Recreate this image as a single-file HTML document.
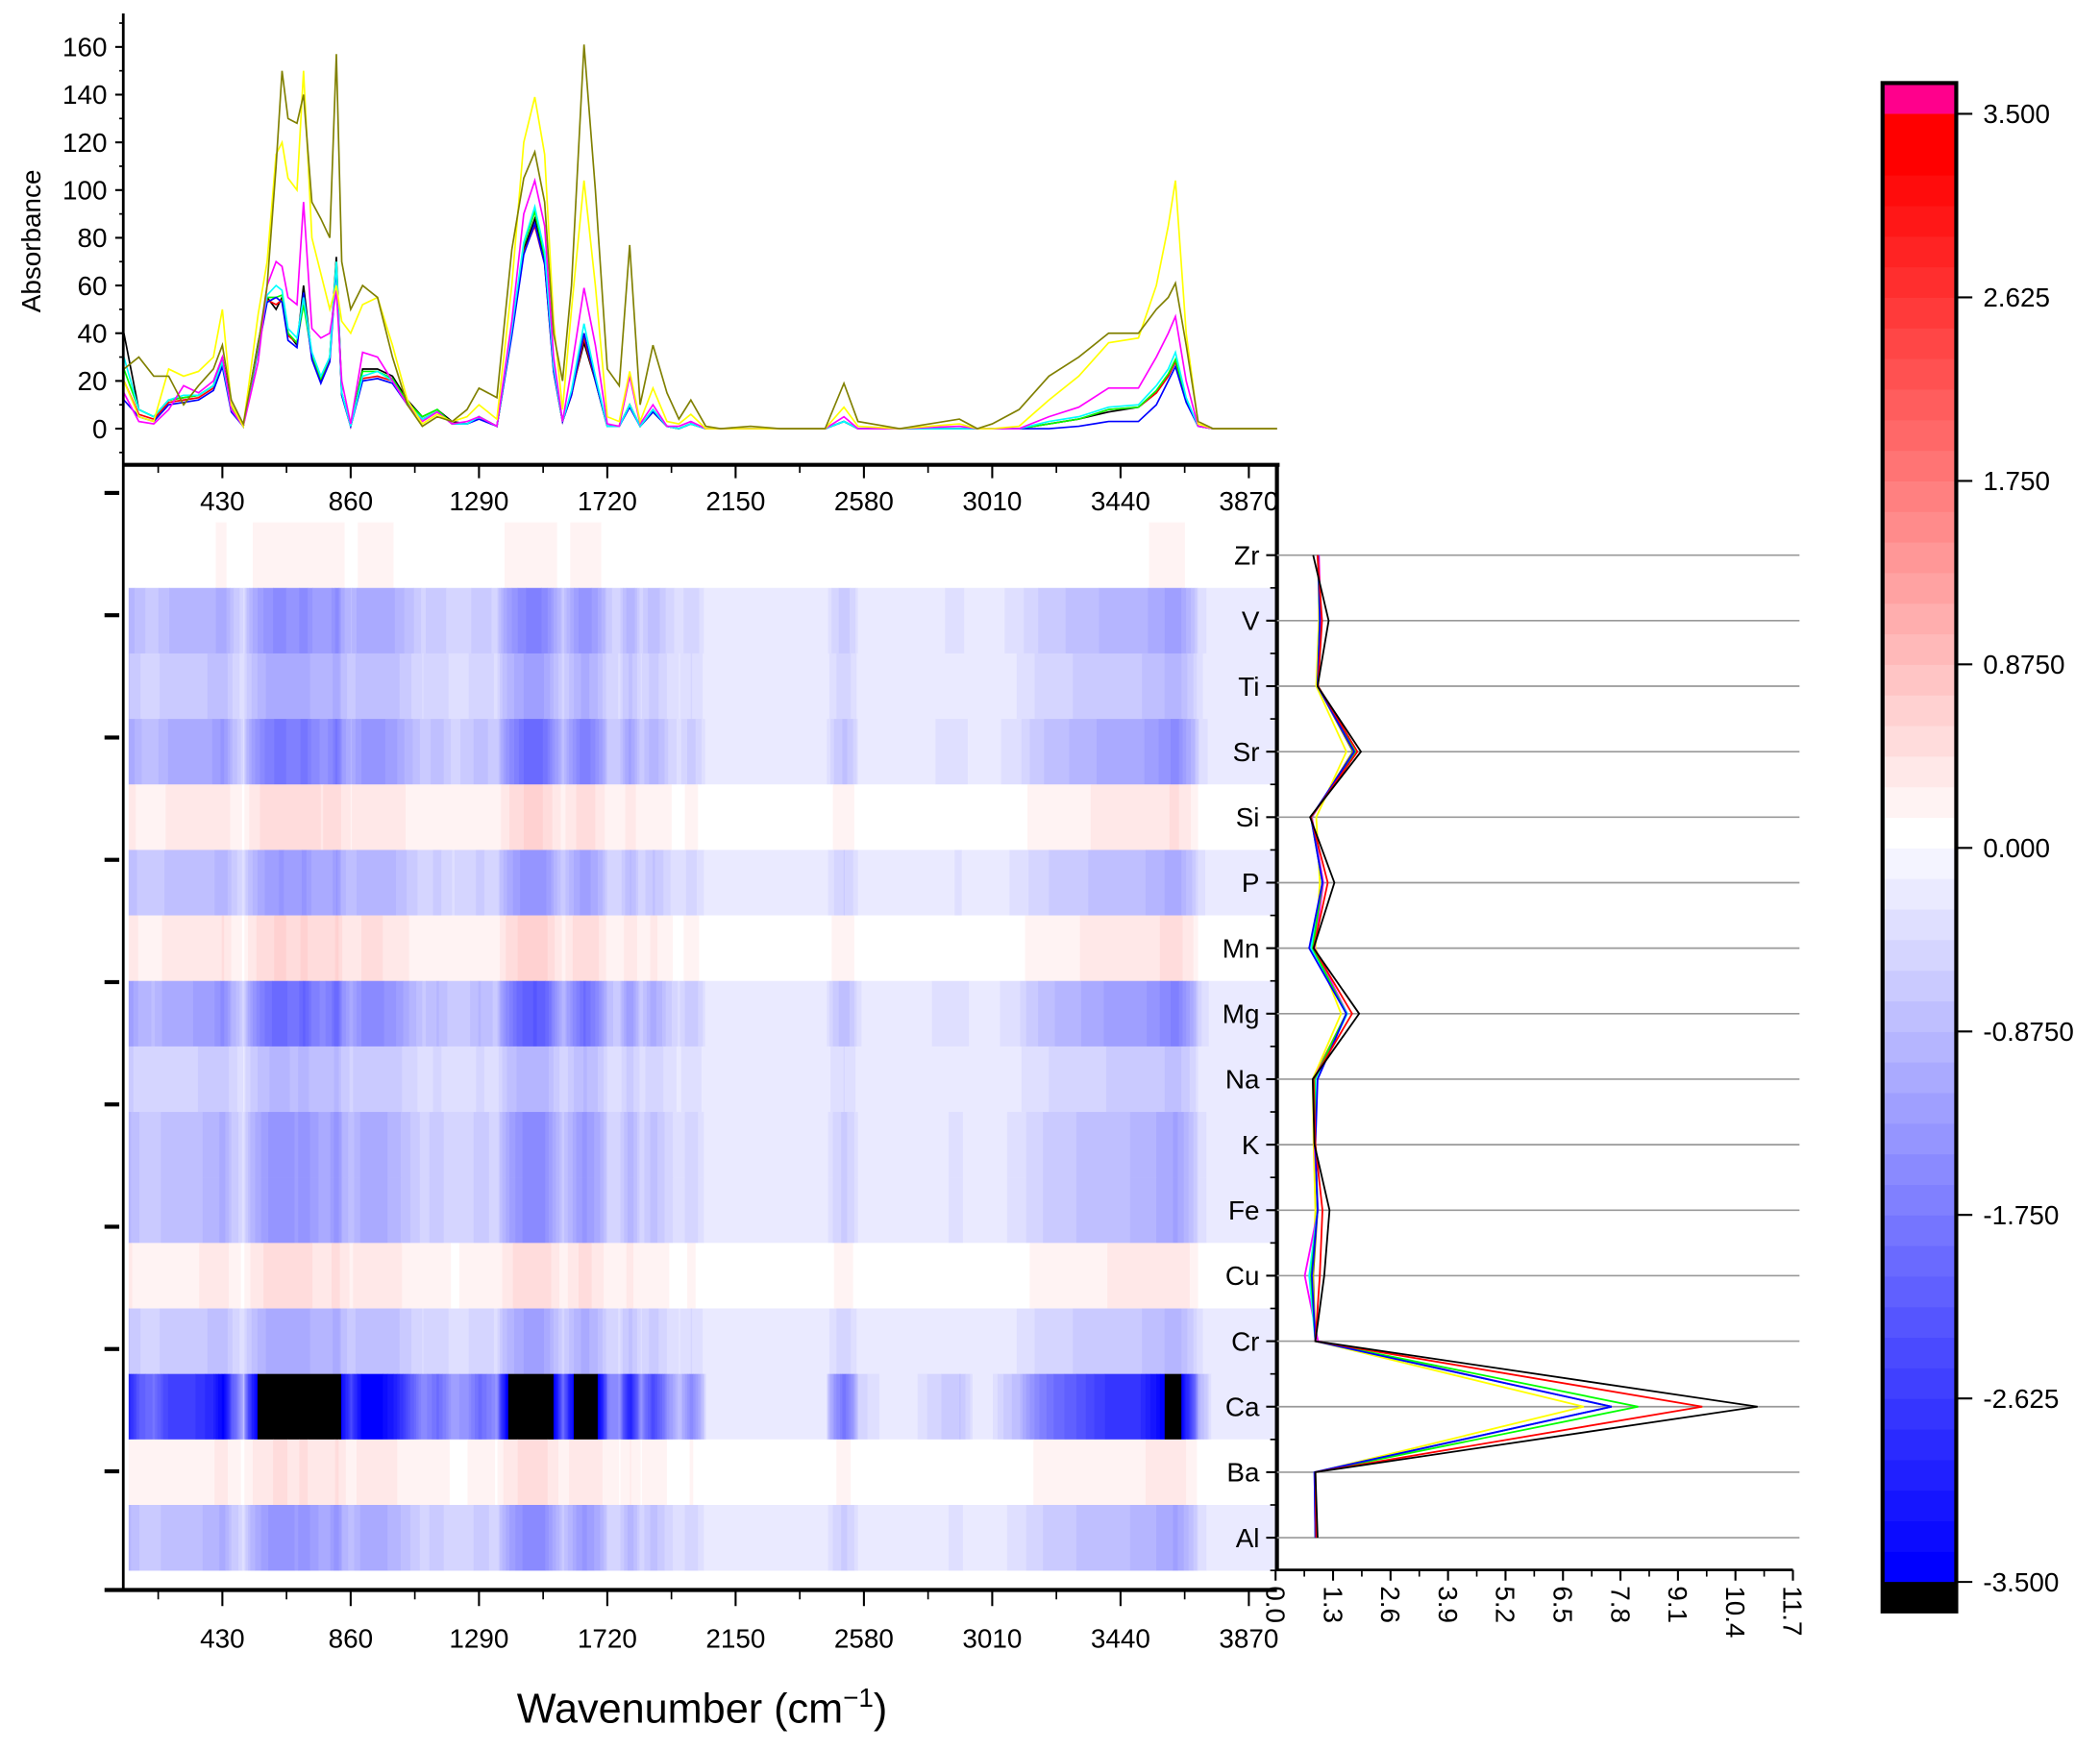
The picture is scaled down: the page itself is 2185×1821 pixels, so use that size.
<!DOCTYPE html>
<html><head><meta charset="utf-8"><style>
html,body{margin:0;padding:0;background:#fff}
svg{display:block;font-family:"Liberation Sans",Arial,sans-serif}
</style></head><body>
<svg id="chart" xmlns="http://www.w3.org/2000/svg" width="2185" height="1821" viewBox="0 0 1560.7 1300.7">
<g transform="scale(0.9958,0.9956)">
<g id="heat"></g>
<g id="topplot"></g>
<g id="axes"></g>
<g id="prof"></g>
<g id="cbar"></g>
</g>
</svg>
<script>
const wn=[100,150,200,250,300,350,400,430,460,500,550,580,610,630,650,680,702,730,760,790,812,830,860,900,950,1000,1050,1100,1150,1200,1250,1290,1350,1400,1440,1477,1510,1540,1570,1600,1642,1680,1720,1760,1795,1830,1873,1920,1960,2000,2050,2100,2200,2300,2450,2513,2560,2700,2900,2960,3010,3100,3200,3300,3400,3500,3560,3600,3624,3660,3700,3750,3973];
const sOlive=[25,30,22,22,10,18,25,35,12,2,35,60,110,150,130,128,140,95,88,80,157,70,50,60,55,30,10,1,5,3,8,17,13,75,105,116,95,40,20,60,161,100,25,18,77,10,35,15,4,12,1,0,1,0,0,19,3,0,4,0,2,8,22,30,40,40,50,55,61,35,3,0,0];
const sYellow=[20,5,3,25,22,24,30,50,10,1,48,70,115,120,105,100,150,80,65,50,60,45,40,52,55,35,12,2,6,3,5,10,4,60,120,139,115,45,8,50,104,60,5,3,24,3,17,3,2,6,0,0,0,0,0,9,1,0,2,0,0,1,12,22,36,38,60,85,104,40,2,0,0];
const sMagenta=[15,3,2,8,18,15,20,30,8,1,28,60,70,68,55,52,95,42,38,40,58,20,2,32,30,20,10,3,7,2,3,5,1,45,90,104,85,30,3,25,59,35,2,1,22,2,10,1,1,3,0,0,0,0,0,5,0,0,1,0,0,0,5,9,17,17,30,40,47,20,1,0,0];
const sCyan=[30,8,5,12,14,14,18,28,8,1,34,56,60,58,42,38,55,32,22,30,70,15,1,22,24,20,10,4,7,2,2,5,1,42,78,93,74,26,3,16,44,22,1,1,10,1,8,1,0,2,0,0,0,0,0,3,0,0,0,0,0,0,3,5,9,10,18,25,32,13,1,0,0];
const sGreen=[25,8,5,12,13,14,18,28,9,1,35,55,55,56,40,36,52,31,21,30,70,15,1,24,24,21,11,5,8,2,2,5,1,41,77,91,72,25,3,15,40,20,1,1,10,1,7,1,0,2,0,0,0,0,0,3,0,0,0,0,0,0,2,4,8,9,16,23,29,12,1,0,0];
const sBlack=[40,8,5,12,13,14,18,30,10,1,36,55,50,55,40,35,60,30,20,30,72,15,1,25,25,22,12,5,8,3,2,5,1,40,75,88,70,25,3,15,36,20,1,1,10,1,8,1,0,2,0,0,0,0,0,3,0,0,0,0,0,0,2,4,7,9,15,22,28,12,1,0,0];
const sRed=[20,6,4,11,12,13,17,27,8,1,34,54,52,54,39,36,55,30,21,29,70,14,1,21,22,20,10,4,7,2,2,5,1,40,74,85,69,24,3,14,38,20,1,1,10,1,7,1,0,2,0,0,0,0,0,3,0,0,0,0,0,0,2,4,8,9,15,22,28,12,1,0,0];
const sBlue=[12,5,3,10,11,12,16,26,7,1,33,53,55,53,37,34,57,29,19,28,68,14,1,20,21,19,10,4,7,2,2,4,1,39,73,86,69,24,3,14,40,20,1,1,9,1,7,1,0,2,0,0,0,0,0,3,0,0,0,0,0,0,0,1,3,3,10,20,26,11,1,0,0];
const seriesColors=["#808000","#ffff00","#ff00ff","#00ffff","#00ff00","#000000","#ff0000","#0000ff"];
const elements=["Zr","V","Ti","Sr","Si","P","Mn","Mg","Na","K","Fe","Cu","Cr","Ca","Ba","Al"];
const rowCoef=[0.2,-1.4,-1.0,-1.7,0.55,-1.2,0.6,-1.9,-0.8,-1.3,-1.3,0.5,-1.0,-4.6,0.45,-1.3];
const pOlive=[0.95,1.0,0.95,1.75,0.82,1.06,0.88,1.6,0.85,0.88,0.95,0.85,0.9,7.6,0.9,0.9];
const pYellow=[0.97,0.98,0.92,1.6,0.92,1.0,0.9,1.48,0.84,0.86,0.9,0.83,0.9,6.97,0.9,0.9];
const pMagenta=[0.98,1.02,0.95,1.78,0.82,1.08,0.88,1.62,0.86,0.88,0.96,0.66,0.96,7.6,0.88,0.9];
const pCyan=[0.96,1.0,0.95,1.78,0.81,1.06,0.8,1.62,0.9,0.9,0.95,0.76,0.9,7.6,0.88,0.9];
const pGreen=[0.96,1.0,0.95,1.8,0.8,1.06,0.84,1.6,0.88,0.9,0.95,0.8,0.9,8.2,0.9,0.9];
const pBlack=[0.85,1.2,0.95,1.93,0.78,1.33,0.86,1.89,0.84,0.88,1.22,1.1,0.9,10.9,0.9,0.95];
const pRed=[0.95,1.05,0.96,1.85,0.8,1.18,0.86,1.73,0.86,0.9,1.06,1.0,0.9,9.65,0.9,0.92];
const pBlue=[0.96,1.0,0.95,1.78,0.8,1.06,0.76,1.6,0.95,0.9,0.95,0.82,0.9,7.6,0.88,0.9];
const yTicks=[0,20,40,60,80,100,120,140,160];
const xTicks=[430,860,1290,1720,2150,2580,3010,3440,3870];
const pTicks=["0.0","1.3","2.6","3.9","5.2","6.5","7.8","9.1","10.4","11.7"];
const cbTicks=["3.500","2.625","1.750","0.8750","0.000","-0.8750","-1.750","-2.625","-3.500"];

const NS="http://www.w3.org/2000/svg";
function mk(tag,attrs,parent,txt){const e=document.createElementNS(NS,tag);for(const k in attrs)e.setAttribute(k,attrs[k]);if(txt!==undefined)e.textContent=txt;parent.appendChild(e);return e;}
const L=92,R=953;
const xs=w=>70.2+0.2227*w;
const ys=v=>320-1.781*v;
const rowY0=390,rowH=48.9;
const rowC=r=>rowY0+r*rowH+rowH/2;
const px=v=>952+v*33.0;
const series=[sOlive,sYellow,sMagenta,sCyan,sGreen,sBlack,sRed,sBlue];
const profiles=[pOlive,pYellow,pMagenta,pCyan,pGreen,pBlack,pRed,pBlue];

function interp(arr,w){if(w<=wn[0])return arr[0];for(let i=1;i<wn.length;i++){if(w<=wn[i]){const t=(w-wn[i-1])/(wn[i]-wn[i-1]);return arr[i-1]+t*(arr[i]-arr[i-1]);}}return arr[arr.length-1];}
function colorFor(v){
 if(v>3.5)return "rgb(255,0,140)";
 if(v< -3.5)return "#000";
 if(v>=0){const k=Math.floor(v/0.14583);const t=Math.min(1,k/22);const c=Math.round(255*(1-t));return `rgb(255,${c},${c})`;}
 const j=Math.ceil(-v/0.14583);const t=Math.min(1,j/24);const c=Math.round(255*(1-t));return `rgb(${c},${c},255)`;
}
const heatG=document.getElementById('heat');
const wStart=(L+4-70.2)/0.2227, wEnd=(R-70.2)/0.2227, stepW=4;
for(let r=0;r<elements.length;r++){
 const y=rowY0+r*rowH;let runStart=null,runCol=null;
 const flush=(wEndRun)=>{if(runStart===null)return;const x1=xs(runStart),x2=xs(wEndRun);
  const re=mk('rect',{x:x1.toFixed(2),y:y.toFixed(2),width:(x2-x1+0.3).toFixed(2),height:(rowH+0.2).toFixed(2),fill:runCol},heatG);
  
  };
 for(let w=wStart;w<wEnd;w+=stepW){
  let m=0;for(const s of series)m+=interp(s,w);m/=series.length;
  const n0=Math.pow(Math.max(m,0)/80,0.3);
  const n=Math.max(0,n0-0.15)/0.85;
  const v=rowCoef[r]*n+(rowCoef[r]<0?-0.15:0.02);
  const c=colorFor(v);
  if(c!==runCol){flush(w);runStart=w;runCol=c;}
 }
 flush(wEnd);
}
const topG=document.getElementById('topplot');
const order=[5,6,4,7,3,2,1,0];
for(const si of order){const s=series[si];let d="";
 for(let i=0;i<wn.length;i++){const x=Math.min(R,xs(wn[i]));d+=(i?"L":"M")+x.toFixed(2)+","+ys(s[i]).toFixed(2);}
 const p=mk('path',{d:d,fill:"none",stroke:seriesColors[si],"stroke-width":1.2},topG);
 
 
}
const ax=document.getElementById('axes');
mk('line',{x1:L,y1:10,x2:L,y2:1186,stroke:"#000","stroke-width":2},ax);
mk('line',{x1:L,y1:347,x2:R+2,y2:347,stroke:"#000","stroke-width":3},ax);
for(const v of yTicks){mk('line',{x1:L-6,y1:ys(v),x2:L,y2:ys(v),stroke:"#000","stroke-width":1.5},ax);
 const t=mk('text',{x:L-12,y:ys(v)+7,"font-size":20,"text-anchor":"end"},ax,String(v));}
for(let v=-10;v<=170;v+=20)mk('line',{x1:L-3,y1:ys(v),x2:L,y2:ys(v),stroke:"#000","stroke-width":1.2},ax);
mk('text',{x:30,y:180,"font-size":20,"text-anchor":"middle",transform:"rotate(-90 30 180)",},ax,"Absorbance");
for(const w of xTicks){mk('line',{x1:xs(w),y1:347,x2:xs(w),y2:357,stroke:"#000","stroke-width":1.5},ax);
 mk('text',{x:xs(w),y:381,"font-size":20,"text-anchor":"middle",},ax,String(w));}
for(let w=215;w<4000;w+=430)mk('line',{x1:xs(w),y1:347,x2:xs(w),y2:353,stroke:"#000","stroke-width":1.2},ax);
mk('line',{x1:78,y1:1187,x2:R,y2:1187,stroke:"#000","stroke-width":3},ax);
for(const w of xTicks){mk('line',{x1:xs(w),y1:1187,x2:xs(w),y2:1199,stroke:"#000","stroke-width":1.5},ax);
 mk('text',{x:xs(w),y:1230,"font-size":20,"text-anchor":"middle",},ax,String(w));}
for(let w=215;w<4000;w+=430)mk('line',{x1:xs(w),y1:1187,x2:xs(w),y2:1194,stroke:"#000","stroke-width":1.2},ax);
const tt=mk('text',{x:524,y:1286,"font-size":31,"text-anchor":"middle",},ax,"Wavenumber (cm");
mk('tspan',{dy:-12,"font-size":20},tt,"−1");mk('tspan',{dy:12},tt,")");
for(let k=0;k<9;k++){const y=368+k*91.3;mk('line',{x1:78,y1:y,x2:89,y2:y,stroke:"#000","stroke-width":3},ax);}
const prof=document.getElementById('prof');
mk('line',{x1:R,y1:347,x2:R,y2:1173,stroke:"#000","stroke-width":3},prof);
mk('line',{x1:R,y1:1172,x2:px(11.7),y2:1172,stroke:"#000","stroke-width":2},prof);
for(let r=0;r<elements.length;r++){const y=rowC(r);
 mk('line',{x1:R,y1:y,x2:1343,y2:y,stroke:"#999","stroke-width":1.2},prof);
 mk('line',{x1:R-8,y1:y,x2:R,y2:y,stroke:"#000","stroke-width":1.5},prof);
 mk('line',{x1:R-5,y1:y+rowH/2,x2:R,y2:y+rowH/2,stroke:"#000","stroke-width":1.2},prof);
 mk('text',{x:R-13,y:y+7,"font-size":20,"text-anchor":"end",},prof,elements[r]);}
for(let i=0;i<pTicks.length;i++){const x=px(i*1.3);
 mk('line',{x1:x,y1:1172,x2:x,y2:1180,stroke:"#000","stroke-width":1.5},prof);
 if(i<9)mk('line',{x1:px(i*1.3+0.65),y1:1172,x2:px(i*1.3+0.65),y2:1177,stroke:"#000","stroke-width":1.2},prof);
 mk('text',{x:x-7,y:1184,"font-size":20,transform:`rotate(90 ${x-7} 1184)`,},prof,pTicks[i]);}
for(const si of [0,1,2,3,4,7,6,5]){const p=profiles[si];let d="";
 for(let r=0;r<elements.length;r++)d+=(r?"L":"M")+px(p[r]).toFixed(2)+","+rowC(r).toFixed(2);
 const pl=mk('path',{d:d,fill:"none",stroke:seriesColors[si],"stroke-width":1.3},prof);
 
 }
const cb=document.getElementById('cbar');
const cbTop=85,cbBot=1181,cbX=1405,cbW=55;
const cbs=v=>cbTop+(3.5-v)*(cbBot-cbTop)/7;
mk('rect',{x:cbX,y:62,width:cbW,height:cbTop-62,fill:"rgb(255,0,140)"},cb);
for(let k=0;k<48;k++){const v0=-3.5+k*0.145833,vm=v0+0.07;
 mk('rect',{x:cbX,y:cbs(v0+0.145833),width:cbW,height:(cbBot-cbTop)/48+0.4,fill:colorFor(vm)},cb);}
mk('rect',{x:cbX,y:cbBot,width:cbW,height:1203-cbBot,fill:"#000"},cb);
mk('rect',{x:cbX,y:62,width:cbW,height:1141,fill:"none",stroke:"#000","stroke-width":3},cb);
for(let i=0;i<cbTicks.length;i++){const y=cbs(3.5-i*0.875);
 mk('line',{x1:cbX+cbW,y1:y,x2:cbX+cbW+12,y2:y,stroke:"#000","stroke-width":1.5},cb);
 mk('text',{x:1480,y:y+7,"font-size":20,},cb,cbTicks[i]);}
</script>
</body></html>
